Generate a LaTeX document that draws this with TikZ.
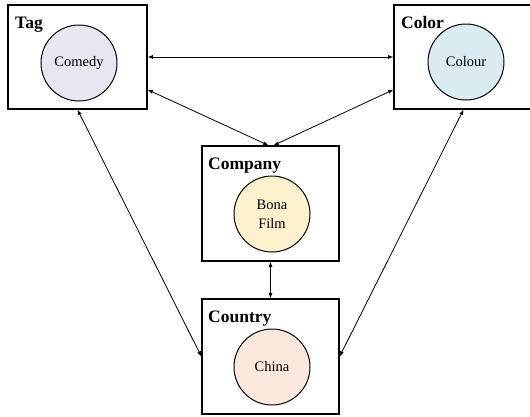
\documentclass[tikz,border=0pt]{standalone}
\usepackage{fontspec}
\setmainfont{Liberation Serif}
\usetikzlibrary{arrows}
\definecolor{tagfill}{HTML}{E8E6F0}
\definecolor{colorfill}{HTML}{DBEBF2}
\definecolor{companyfill}{HTML}{FDF0CC}
\definecolor{countryfill}{HTML}{FBE7DB}
\begin{document}
\begin{tikzpicture}[x=1pt,y=-1pt,
    box/.style={draw,line width=1.3pt,minimum width=139pt,minimum height=104pt,inner sep=0pt},
    bigbox/.style={box,minimum width=137pt,minimum height=115pt},
    title/.style={anchor=base west,font=\fontsize{17.5}{19}\selectfont\bfseries,inner sep=0pt},
    value/.style={circle,draw,line width=1pt,minimum size=76pt,inner sep=0pt,align=center,font=\fontsize{14.5}{19}\selectfont},
    link/.style={latex-latex,line width=0.8pt}]
                      \useasboundingbox (0,0) rectangle (530,416);
                      \node[box](tag)at(77.5,57){};
                      \node[box](color)at(463.5,57){};
                      \node[bigbox](company)at(270.5,203.5){};
                      \node[bigbox](country)at(270.5,356.5){};
                      \node[title](tagtitle)at(15,28){Tag};
                      \node[title](colortitle)at(401,28){Color};
                      \node[title](companytitle)at(208,169){Company};
                      \node[title](countrytitle)at(208,322){Country};
                      \node[value,fill=tagfill](comedy)at(79,63){Comedy};
                      \node[value,fill=colorfill](colour)at(466,62){Colour};
                      \node[value,fill=companyfill](bona)at(272,214){Bona\\Film};
                      \node[value,fill=countryfill](china)at(272,367){China};
                      \draw[link] (tag.east) -- (color.west);
                      \draw[link] (tag.-25) -- (company.92.5);
                      \draw[link] (color.205) -- (company.87.5);
                      \draw[link] (tag.south) -- (country.west);
                      \draw[link] (color.south) -- (country.east);
                      \draw[link] (company.south) -- (country.north);
                  \end{tikzpicture}
\end{document}
